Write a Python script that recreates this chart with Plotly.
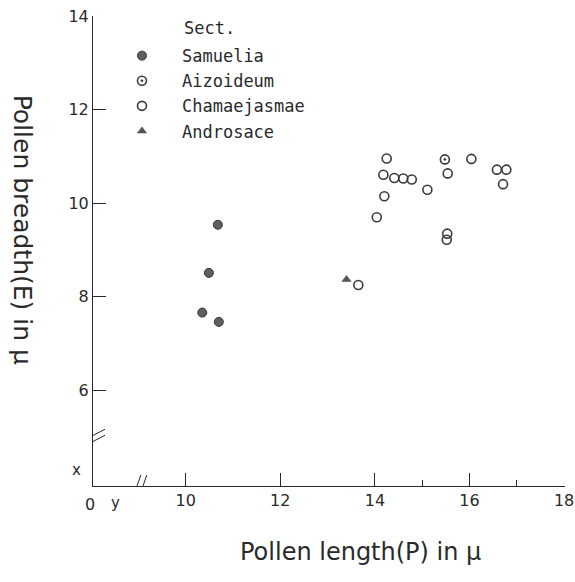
import plotly.graph_objects as go

# ---- data ----
samuelia_x = [10.68, 10.49, 10.35, 10.70]
samuelia_y = [9.54, 8.51, 7.66, 7.46]

aizoideum_x = [15.48]
aizoideum_y = [10.94]

chamae_x = [14.25, 14.18, 14.41, 14.60, 14.78, 15.11, 14.20, 14.04, 15.54,
            16.04, 16.58, 16.78, 16.71, 15.53, 15.52, 13.65]
chamae_y = [10.96, 10.61, 10.54, 10.53, 10.51, 10.29, 10.15, 9.70, 10.64,
            10.95, 10.72, 10.72, 10.41, 9.35, 9.22, 8.25]

androsace_x = [13.40]
androsace_y = [8.37]

x_ticks = [10, 12, 14, 16, 18]
x_minor = [15, 17]
y_ticks = [6, 8, 10, 12, 14]

x_origin = 8.04
y_origin = 3.947
x_break = 9.03
y_break = 4.97

INK = "#2a2a2a"
FONT = "DejaVu Sans"
MONO = "DejaVu Sans Mono"

fig = go.Figure()
fig.add_trace(go.Scatter(x=samuelia_x, y=samuelia_y, mode="markers", name="Samuelia",
                         marker=dict(symbol="circle", size=9, color="#5f5f5f",
                                     line=dict(color="#333333", width=1))))
fig.add_trace(go.Scatter(x=aizoideum_x, y=aizoideum_y, mode="markers", name="Aizoideum",
                         marker=dict(symbol="circle-open-dot", size=9, color="#3a3a3a",
                                     line=dict(width=1.6))))
fig.add_trace(go.Scatter(x=chamae_x, y=chamae_y, mode="markers", name="Chamaejasmae",
                         marker=dict(symbol="circle-open", size=9, color="#3a3a3a",
                                     line=dict(width=1.6))))
fig.add_trace(go.Scatter(x=androsace_x, y=androsace_y, mode="markers", name="Androsace",
                         marker=dict(symbol="triangle-up", size=8, color="#555555",
                                     line=dict(color="#444444", width=0.5))))

shapes = []
# break marks on x axis
for dx in (-3, 3):
    shapes.append(dict(type="line", xref="x", yref="y", xsizemode="pixel", ysizemode="pixel",
                       xanchor=x_break, yanchor=y_origin,
                       x0=dx - 4, y0=-12, x1=dx + 4, y1=11,
                       line=dict(color=INK, width=1)))
# break marks on y axis
for dy in (-3, 3):
    shapes.append(dict(type="line", xref="x", yref="y", xsizemode="pixel", ysizemode="pixel",
                       xanchor=x_origin, yanchor=y_break,
                       x0=-11, y0=dy - 6, x1=12, y1=dy + 6,
                       line=dict(color=INK, width=1)))

annotations = [
    dict(text="Sect.", x=0.188, y=0.975, xref="paper", yref="paper", xanchor="left",
         yanchor="middle", showarrow=False, font=dict(family=MONO, size=17, color=INK)),
    dict(text="0", x=-0.0064, y=-0.040, xref="paper", yref="paper", xanchor="center",
         yanchor="middle", showarrow=False, font=dict(family=FONT, size=16, color=INK)),
    dict(text="y", x=0.0487, y=-0.036, xref="paper", yref="paper", xanchor="center",
         yanchor="middle", showarrow=False, font=dict(family=FONT, size=15, color=INK)),
    dict(text="x", x=-0.0339, y=0.034, xref="paper", yref="paper", xanchor="center",
         yanchor="middle", showarrow=False, font=dict(family=FONT, size=15, color=INK)),
    dict(text="Pollen length(P) in μ", x=0.566, y=-0.140, xref="paper", yref="paper",
         xanchor="center", yanchor="middle", showarrow=False,
         font=dict(family=FONT, size=24, color=INK)),
    dict(text="Pollen breadth(E) in μ", x=-0.150, y=0.545, xref="paper", yref="paper",
         xanchor="center", yanchor="middle", textangle=90, showarrow=False,
         font=dict(family=FONT, size=25, color=INK)),
]

fig.update_layout(
    width=575, height=582,
    margin=dict(l=93, r=10, t=16, b=96),
    paper_bgcolor="white", plot_bgcolor="white",
    showlegend=True,
    legend=dict(x=0.019, y=0.953, xanchor="left", yanchor="top", itemwidth=70,
                font=dict(family=MONO, size=17, color=INK), bgcolor="rgba(0,0,0,0)",
                tracegroupgap=0),
    shapes=shapes,
    annotations=annotations,
)
fig.update_xaxes(range=[x_origin, 18.02], showline=True, linecolor=INK, linewidth=1,
                 showgrid=False, zeroline=False, ticks="inside", ticklen=13,
                 tickcolor=INK, tickvals=x_ticks, ticktext=[str(v) for v in x_ticks],
                 tickfont=dict(family=FONT, size=16, color=INK),
                 ticklabeloverflow="allow", automargin=False,
                 minor=dict(tickvals=x_minor, ticks="inside", ticklen=6, tickcolor=INK,
                            showgrid=False))
fig.update_yaxes(range=[y_origin, 14.01], showline=True, linecolor=INK, linewidth=1,
                 showgrid=False, zeroline=False, ticks="inside", ticklen=13,
                 tickcolor=INK, tickvals=y_ticks, ticktext=[str(v) for v in y_ticks],
                 ticklabeloverflow="allow", automargin=False,
                 tickfont=dict(family=FONT, size=16, color=INK))

fig.write_html("out.html", config={"displayModeBar": False},
               post_script="document.body.style.margin='0';document.body.style.overflow='hidden';")
